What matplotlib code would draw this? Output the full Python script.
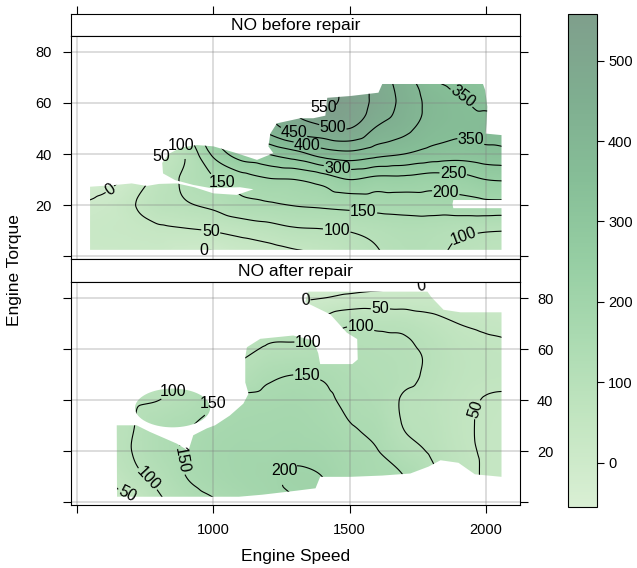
import numpy as np
import matplotlib
matplotlib.use("Agg")
import matplotlib.pyplot as plt
import matplotlib.tri as mtri
from matplotlib.path import Path
from matplotlib.patches import PathPatch
from matplotlib.colors import LinearSegmentedColormap, Normalize
from matplotlib.cm import ScalarMappable

plt.rcParams['font.family'] = ['Liberation Sans', 'DejaVu Sans']

# ---------------- data ----------------
speed = [500, 600, 700, 800, 900, 1000, 1100, 1200, 1300, 1400, 1500, 1600, 1700, 1800, 1900, 2000, 2100]
torque = [0, 10, 20, 30, 40, 50, 60, 70, 80, 90]

no_before = [
    [15, 15, 15, 15, -5, -15, 10, 20, 35, 50, 75, 95, 110, 108, 88, 75, 70],
    [20, 25, 30, 40, 45, 52, 65, 78, 92, 96, 102, 112, 122, 120, 110, 103, 100],
    [0, 12, 45, 80, 95, 110, 135, 143, 152, 158, 165, 170, 172, 175, 180, 185, 185],
    [-25, -15, 15, 70, 110, 145, 175, 195, 200, 220, 250, 235, 235, 225, 230, 250, 255],
    [-40, -30, -10, 45, 105, 210, 275, 300, 330, 370, 385, 365, 350, 330, 320, 330, 340],
    [-50, -40, -20, 40, 140, 280, 350, 420, 470, 490, 500, 445, 415, 375, 360, 368, 365],
    [-60, -50, -30, 35, 180, 320, 410, 470, 510, 555, 535, 485, 435, 385, 358, 340, 335],
    [-70, -60, -40, 30, 210, 340, 420, 470, 505, 545, 525, 475, 425, 355, 330, 315, 310],
    [-80, -70, -50, 25, 225, 345, 420, 465, 500, 530, 510, 465, 415, 345, 320, 305, 300],
    [-90, -80, -60, 20, 235, 350, 420, 460, 495, 520, 500, 455, 405, 335, 310, 295, 290],
]

no_after = [
    [0, 15, 40, 90, 125, 145, 165, 185, 200, 212, 188, 170, 145, 120, 90, 45, 40],
    [30, 45, 85, 115, 150, 170, 185, 192, 205, 200, 175, 160, 150, 110, 75, 45, 40],
    [50, 70, 100, 132, 155, 175, 185, 185, 190, 185, 165, 152, 118, 95, 65, 45, 40],
    [55, 75, 97, 128, 145, 165, 175, 178, 180, 170, 152, 140, 98, 85, 60, 45, 40],
    [50, 70, 92, 100, 118, 148, 160, 165, 170, 160, 140, 128, 95, 82, 62, 48, 45],
    [45, 60, 75, 85, 95, 115, 115, 140, 150, 145, 130, 120, 110, 92, 70, 60, 58],
    [35, 45, 55, 65, 75, 90, 90, 105, 108, 115, 115, 112, 106, 92, 68, 58, 55],
    [20, 30, 40, 45, 50, 65, 65, 80, 78, 70, 95, 90, 88, 70, 50, 42, 35],
    [0, 10, 15, 20, 25, 30, 25, 20, -5, 0, 12, 18, 20, 20, 18, 10, 5],
    [-20, -10, -5, 0, 0, 0, -15, -30, -60, -50, -50, -40, -30, -20, -15, -10, -10],
]

# outline of the area where each surface is drawn (speed, torque)
before_area = [(547, 2.5), (2058, 2.5), (2058, 18.8), (1881, 18.8), (1878, 20.4), (1881, 22), (2058, 22),
               (2058, 47.4), (2000, 48), (2003, 52), (2006, 58.5), (1998, 65), (1990, 67.4), (1620, 67.4),
               (1606, 64), (1503, 62.7), (1418, 62), (1411, 55), (1367, 54), (1319, 54), (1233, 52),
               (1209, 48), (1202, 43), (1220, 40.3), (1160, 37.7), (1086, 40.3), (1000, 43), (939, 43.5),
               (880, 42.5), (835, 40), (812, 36.5), (815, 32.4), (859, 29.8), (926, 27.9), (988, 26.7),
               (1098, 27), (1147, 26.2), (1086, 24), (1000, 24.6), (930, 27), (866, 28.5), (800, 28.3),
               (755, 27.5), (700, 28.5), (631, 27.8), (547, 27.2)]
after_area = [(646, 2.2), (1094, 2.2), (1180, 3), (1300, 4.5), (1375, 5.5), (1392, 10), (1503, 10),
              (1620, 10.5), (1723, 11.3), (1790, 14), (1834, 16.5), (1900, 15.5), (1960, 11), (2058, 10),
              (2058, 74.5), (1907, 74.5), (1845, 75.5), (1800, 80.5), (1786, 82.6), (1348, 82.6),
              (1337, 78.5), (1429, 73.7), (1490, 66.5), (1528, 64), (1530, 56), (1510, 54.2), (1392, 54.2),
              (1385, 58.4), (1367, 63.5), (1293, 65.4), (1172, 64.1), (1123, 60.8), (1117, 56.9),
              (1117, 47), (1129, 42.6), (1110, 38.7), (1060, 34), (1006, 30.2), (976, 29), (926, 26.3),
              (908, 20.2), (866, 23), (767, 27.6), (718, 30.2), (645, 30.2)]
after_blob = (850, 37, 138, 7.6)   # centre speed, centre torque, half-width, half-height

before_label_at = [(615, 27), (965, 2.7), (994, 12.6), (826, 38.5), (890, 44.0), (1454, 11.6), (1918, 9.5),
                   (1031, 28.8), (1551, 17.8), (1858, 27.9), (1881, 33.7), (1454, 33), (1955, 51), (1918, 63),
                   (1345, 43.8), (1300, 50.5), (1440, 51.3), (1417, 61)]
before_label_turned = [True, False, False, False, False, False, True,
                       False, False, False, False, False, False, True,
                       False, False, False, False]
after_label_at = [(1337, 79.8), (1766, 83.3), (1613, 77.8), (1936, 37.4), (694, 6.1), (1343, 65.4),
                  (1540, 68), (841, 45.2), (774, 11.3), (1343, 49.1), (1017, 36.2), (889, 16.5), (1221, 16.5)]
after_label_turned = [True, True, False, True, True, False,
                      False, False, True, False, False, True, False]

panel_titles = ["NO before repair", "NO after repair"]
contour_levels = list(range(0, 551, 50))
colour_ticks = [0, 100, 200, 300, 400, 500]
colour_range = (-55, 558)
speed_ticks = [500, 1000, 1500, 2000]
speed_ticklabels = ["", "1000", "1500", "2000"]
torque_ticks = [0, 20, 40, 60, 80]
torque_ticklabels = ["", "20", "40", "60", "80"]

# ---------------- figure ----------------
W, H = 637, 568
fig = plt.figure(figsize=(W / 100, H / 100), dpi=100)


def ax_px(l, t, r, b):
    return fig.add_axes([l / W, 1 - b / H, (r - l) / W, (b - t) / H])


cmap = LinearSegmentedColormap.from_list(
    "greens_soft", ["#d9efd4", "#c4e6c2", "#acdbb2", "#96cea3", "#86be97", "#7fae90", "#7f9f8c"])
norm = Normalize(*colour_range)

Xg, Yg = np.meshgrid(speed, torque)
tri = mtri.Triangulation(Xg.ravel().astype(float), Yg.ravel().astype(float))
xf = np.linspace(speed[0], speed[-1], 321)
yf = np.linspace(torque[0], torque[-1], 181)
Xf, Yf = np.meshgrid(xf, yf)

XLIM = (477, 2127)
YLIM = (-1.2, 86.3)


def make_clip(ax, outline, blob=None):
    v = list(outline) + [outline[0]]
    paths = [Path(np.array(v, float), closed=True)]
    if blob is not None:
        cx, cy, rx, ry = blob
        t = np.linspace(0, 2 * np.pi, 80)
        ev = np.column_stack([cx + rx * np.cos(t), cy + ry * np.sin(t)])
        paths.append(Path(ev, closed=True))
    path = Path.make_compound_path(*paths)
    return PathPatch(path, transform=ax.transData, facecolor="none", edgecolor="none")


def draw_panel(ax, z, outline, blob, label_at, label_turned):
    interp = mtri.CubicTriInterpolator(tri, np.asarray(z, float).ravel(), kind="geom")
    Zf = interp(Xf, Yf).filled(np.nan)
    clip = make_clip(ax, outline, blob)
    im = ax.imshow(Zf, origin="lower", extent=(xf[0], xf[-1], yf[0], yf[-1]), aspect="auto",
                   cmap=cmap, norm=norm, interpolation="bilinear", zorder=1)
    im.set_clip_path(clip)
    cs = ax.contour(Xf, Yf, Zf, levels=contour_levels, colors="black", linewidths=0.8, zorder=3)
    texts = ax.clabel(cs, manual=label_at, inline=True, fontsize=11.5, fmt="%d", inline_spacing=1)
    for t, turned in zip(texts, label_turned):
        if not turned:
            t.set_rotation(0)
    cs.set_clip_path(clip)
    ax.set_xlim(*XLIM)
    ax.set_ylim(*YLIM)
    ax.set_axisbelow("line")
    ax.set_xticks(speed_ticks)
    ax.set_yticks(torque_ticks)
    ax.grid(True, color=(0.5, 0.5, 0.5), alpha=0.32, linewidth=1.2)
    for s in ax.spines.values():
        s.set_linewidth(0.8)


def draw_strip(ax, title, top_ticks):
    ax.set_xlim(*XLIM)
    ax.set_ylim(0, 1)
    ax.set_yticks([])
    ax.text(0.5, 0.45, title, transform=ax.transAxes, ha="center", va="center", fontsize=12.5)
    for s in ax.spines.values():
        s.set_linewidth(0.8)
    if top_ticks:
        ax.set_xticks(speed_ticks)
        ax.tick_params(axis="x", bottom=False, top=True, labelbottom=False, labeltop=False,
                       direction="out", length=6, width=0.8)
    else:
        ax.set_xticks([])


strip1 = ax_px(71, 14, 520.3, 35.7)
ax1 = ax_px(71, 35.7, 520.3, 259.3)
strip2 = ax_px(71, 259.3, 520.3, 282.2)
ax2 = ax_px(71, 282.2, 520.3, 505.4)

draw_strip(strip1, panel_titles[0], True)
draw_strip(strip2, panel_titles[1], False)
draw_panel(ax1, no_before, before_area, None, before_label_at, before_label_turned)
draw_panel(ax2, no_after, after_area, after_blob, after_label_at, after_label_turned)

ax1.set_yticklabels(torque_ticklabels)
ax1.tick_params(axis="y", left=True, right=True, labelleft=True, labelright=False,
                direction="out", length=6, width=0.8, labelsize=10.5, pad=8)
ax1.tick_params(axis="x", bottom=False, top=False, labelbottom=False)

ax2.set_yticklabels(torque_ticklabels)
ax2.set_xticklabels(speed_ticklabels)
ax2.tick_params(axis="y", left=True, right=True, labelleft=False, labelright=True,
                direction="out", length=6, width=0.8, labelsize=10.5, pad=6)
ax2.tick_params(axis="x", bottom=True, top=False, labelbottom=True,
                direction="out", length=6, width=0.8, labelsize=10.5, pad=7)

# colour key
cax = ax_px(568, 14, 597, 507)
sm = ScalarMappable(norm=norm, cmap=cmap)
cb = fig.colorbar(sm, cax=cax, ticks=colour_ticks)
cb.outline.set_linewidth(0.8)
cax.tick_params(direction="out", length=5, width=0.8, labelsize=10.5, pad=3)

fig.text(14 / W, 1 - 270 / H, "Engine Torque", rotation=90, ha="center", va="center", fontsize=12.5)
fig.text(296 / W, 1 - 557 / H, "Engine Speed", ha="center", va="center", fontsize=12.5)

fig.savefig("out.png", dpi=100)
